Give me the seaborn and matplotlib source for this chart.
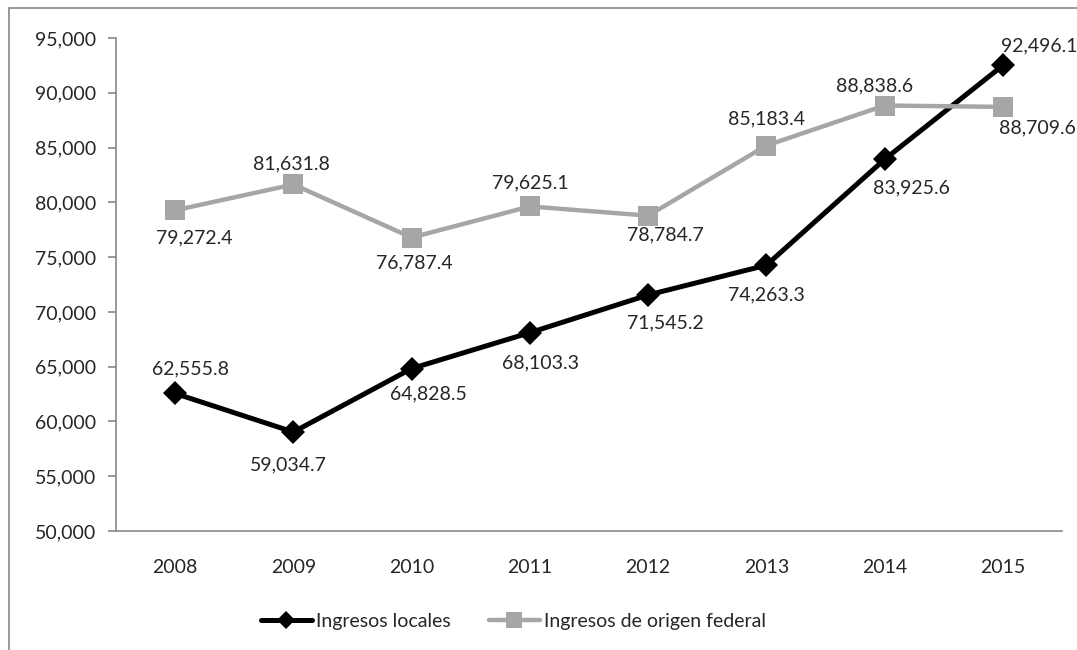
import matplotlib
matplotlib.use('Agg')
import matplotlib.pyplot as plt
from matplotlib.patches import Rectangle
from matplotlib.ticker import FuncFormatter, MultipleLocator
import seaborn as sns
import pandas as pd

# Datos
anios = ['2008', '2009', '2010', '2011', '2012', '2013', '2014', '2015']
locales = [62555.8, 59034.7, 64828.5, 68103.3, 71545.2, 74263.3, 83925.6, 92496.1]
federales = [79272.4, 81631.8, 76787.4, 79625.1, 78784.7, 85183.4, 88838.6, 88709.6]
series = ['Ingresos locales', 'Ingresos de origen federal']

df = pd.DataFrame({
    'anio': anios * 2,
    'valor': locales + federales,
    'serie': [series[0]] * len(anios) + [series[1]] * len(anios),
})

# desplazamiento de las etiquetas de datos (pixeles)
despl_locales = [(15, 25), (-5, -33), (17, -25), (11, -30), (17, -28), (0, -30), (27, -29), (36, 20)]
despl_federales = [(19, -28), (-2, 21), (3, -25), (0, 24), (17, -19), (0, 27), (-10, 20), (35, -21)]

sns.set_theme(style='white')
plt.rcParams['font.family'] = ['Lato', 'DejaVu Sans']

fig = plt.figure(figsize=(10.77, 6.5), dpi=100)
ax = fig.add_axes([116 / 1077, 1 - 531 / 650, (1062 - 116) / 1077, (531 - 38) / 650])

sns.lineplot(data=df[df.serie == series[0]], x='anio', y='valor', color='black',
             marker='D', markersize=12, markeredgewidth=0, linewidth=3.6,
             label=series[0], ax=ax)
sns.lineplot(data=df[df.serie == series[1]], x='anio', y='valor', color='#A6A6A6',
             marker='s', markersize=14, markeredgewidth=0, linewidth=3.2,
             label=series[1], ax=ax)

ax.set_xlim(-0.5, 7.5)
ax.set_ylim(50000, 95000)
ax.yaxis.set_major_locator(MultipleLocator(5000))
ax.yaxis.set_major_formatter(FuncFormatter(lambda v, p: f'{v:,.0f}'))
ax.set_xlabel('')
ax.set_ylabel('')

# ticks del eje x entre categorias
ax.set_xticks(range(len(anios)))
ax.set_xticklabels(anios)
ax.set_xticks([i - 0.5 for i in range(len(anios) + 1)], minor=True)
ax.tick_params(axis='x', which='major', length=0, labelsize=14, pad=20)
ax.tick_params(axis='x', which='minor', length=6, width=1.2, color='#888888', direction='out')
ax.tick_params(axis='y', which='major', length=6, width=1.2, color='#888888', direction='out',
               labelsize=14, pad=8, left=True)

for side in ['top', 'right']:
    ax.spines[side].set_visible(False)
for side in ['left', 'bottom']:
    ax.spines[side].set_color('#888888')
    ax.spines[side].set_linewidth(1.2)

# etiquetas de datos
for vals, despl in [(locales, despl_locales), (federales, despl_federales)]:
    for i, (v, d) in enumerate(zip(vals, despl)):
        ax.annotate(f'{v:,.1f}', (i, v), xytext=d, textcoords='offset pixels',
                    ha='center', va='center', fontsize=14, annotation_clip=False)

# leyenda inferior
h, l = ax.get_legend_handles_labels()
ax.legend(h, l, loc='upper center', bbox_to_anchor=(0.42, -0.13), ncol=2, frameon=False,
          fontsize=14, handlelength=2.6, handletextpad=0.2, columnspacing=2.0,
          markerscale=0.8)

# borde del area del grafico
fig.add_artist(Rectangle((9 / 1077, -0.1), 1.2, 1 - 8 / 650 + 0.1, transform=fig.transFigure,
                         fill=False, edgecolor='#888888', linewidth=1.2))

fig.savefig('out.png', dpi=100)
